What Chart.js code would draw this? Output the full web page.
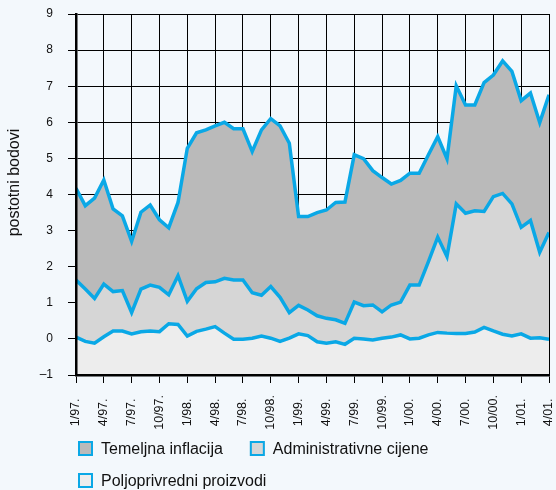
<!DOCTYPE html>
<html>
<head>
<meta charset="utf-8">
<script src="https://cdn.jsdelivr.net/npm/chart.js@4/dist/chart.umd.min.js"></script>
<style>
  html, body { margin: 0; padding: 0; background: #f3f8fc; }
  #wrap { width: 556px; height: 490px; }
</style>
</head>
<body>
<div id="wrap"><canvas id="c" width="556" height="490"></canvas></div>
<script>
// Tick labels on the month axis (every third month, Jan 1997 .. Apr 2001)
const tickLabels = ['1/97.','4/97.','7/97.','10/97.','1/98.','4/98.','7/98.','10/98.',
  '1/99.','4/99.','7/99.','10/99.','1/00.','4/00.','7/00.','10/00.','1/01.','4/01.'];

const seriesNames = ['Temeljna inflacija', 'Administrativne cijene', 'Poljoprivredni proizvodi'];

// Monthly contributions, percentage points (Jan 1997 .. Apr 2001, 52 months)
const temeljna = [2.54,2.31,2.78,2.88,2.29,2.07,1.97,2.13,2.22,1.87,1.86,2.03,
  4.24,4.32,4.23,4.32,4.32,4.19,4.19,3.91,4.58,4.65,4.75,4.69,
  2.46,2.59,2.86,3.00,3.25,3.36,4.08,4.07,3.72,3.72,3.35,3.37,
  3.10,3.10,2.96,2.78,2.71,3.27,3.00,2.93,3.57,3.37,3.67,3.67,
  3.51,3.53,3.59,3.81];

const administrativne = [1.58,1.45,1.24,1.46,1.09,1.12,0.59,1.18,1.27,1.23,0.80,1.35,
  0.96,1.18,1.29,1.24,1.52,1.64,1.64,1.26,1.13,1.43,1.22,0.71,
  0.79,0.71,0.72,0.69,0.61,0.58,1.00,0.92,0.97,0.73,0.89,0.91,
  1.49,1.47,2.03,2.64,2.12,3.59,3.33,3.36,3.21,3.72,3.90,3.66,
  2.95,3.26,2.37,2.96];

const poljoprivredni = [0.05,-0.07,-0.12,0.06,0.22,0.22,0.14,0.20,0.22,0.20,0.42,0.40,
  0.08,0.21,0.27,0.34,0.16,-0.01,-0.01,0.02,0.08,0.02,-0.07,0.02,
  0.14,0.09,-0.08,-0.12,-0.08,-0.15,0.02,0.00,-0.03,0.02,0.05,0.11,
  0.00,0.02,0.11,0.18,0.16,0.15,0.15,0.19,0.32,0.22,0.13,0.08,
  0.14,0.02,0.03,-0.01];

const yTitle = 'postotni bodovi';

// Stacked levels built from the series
const lvl1 = poljoprivredni.map(v => v);
const lvl2 = lvl1.map((v, i) => v + administrativne[i]);
const lvl3 = lvl2.map((v, i) => v + temeljna[i]);
const toPts = arr => arr.map((v, i) => ({ x: i, y: v }));

const LINE = '#0aa8e6';
const FONT = '"Liberation Sans", Arial, Helvetica, sans-serif';

const legendPlugin = {
  id: 'customLegend',
  afterDraw(chart) {
    const ctx = chart.ctx;
    const area = chart.chartArea;
    const order = [2, 1, 0];
    ctx.save();
    ctx.font = '16px ' + FONT;
    ctx.textBaseline = 'middle';
    ctx.textAlign = 'left';
    const box = 15, gap = 8, itemGap = 27, rowH = 32;
    const x0 = area.left + 2;
    let x = x0, y = area.bottom + 66;
    order.forEach(idx => {
      const ds = chart.data.datasets[idx];
      const w = box + gap + ctx.measureText(ds.label).width;
      if (x + w > chart.width && x > x0) { x = x0; y += rowH; }
      ctx.fillStyle = ds.backgroundColor;
      ctx.fillRect(x, y, box, box);
      ctx.strokeStyle = ds.borderColor;
      ctx.lineWidth = 2;
      ctx.strokeRect(x + 1, y + 1, box - 2, box - 2);
      ctx.fillStyle = '#111';
      ctx.fillText(ds.label, x + box + gap, y + box / 2 + 1);
      x += w + itemGap;
    });
    // y axis title
    ctx.font = '16px ' + FONT;
    ctx.textAlign = 'center';
    ctx.translate(14.5, (area.top + area.bottom) / 2 - 12);
    ctx.rotate(-Math.PI / 2);
    ctx.fillText(yTitle, 0, 0);
    ctx.restore();
  }
};

new Chart(document.getElementById('c'), {
  type: 'line',
  data: {
    datasets: [
      { label: seriesNames[2], data: toPts(lvl1), fill: 'start', backgroundColor: '#ededed',
        borderColor: LINE, borderWidth: 3.5, pointRadius: 0, tension: 0 },
      { label: seriesNames[1], data: toPts(lvl2), fill: '-1', backgroundColor: '#d6d6d6',
        borderColor: LINE, borderWidth: 3.5, pointRadius: 0, tension: 0 },
      { label: seriesNames[0], data: toPts(lvl3), fill: '-1', backgroundColor: '#bababa',
        borderColor: LINE, borderWidth: 3.5, pointRadius: 0, tension: 0 }
    ]
  },
  options: {
    responsive: false,
    animation: false,
    devicePixelRatio: 1,
    layout: { padding: { top: 14, right: 7, bottom: 53, left: 0 } },
    plugins: { legend: { display: false }, tooltip: { enabled: false } },
    scales: {
      x: {
        type: 'linear', min: 0, max: 51,
        afterFit: s => { s.height = 62; s.paddingLeft = 0; s.paddingRight = 0; },
        ticks: {
          stepSize: 3, autoSkip: false, maxRotation: 90, minRotation: 90, padding: 12,
          color: '#111', font: { family: FONT, size: 12.5 },
          callback: v => { const t = tickLabels[Math.round(v / 3)]; return t.length < 6 ? t + ' ' : t; }
        },
        grid: { color: '#000', lineWidth: 1, tickLength: 8, tickColor: '#000' },
        border: { color: '#000', width: 2.5, z: 1 }
      },
      y: {
        min: -1, max: 9,
        afterFit: s => { s.width = 76; s.paddingTop = 0; s.paddingBottom = 0; },
        ticks: {
          stepSize: 1, padding: 15, color: '#111', font: { family: FONT, size: 12 },
          callback: v => v < 0 ? '\u2013' + Math.abs(v) : String(v)
        },
        grid: { color: '#000', lineWidth: 1, tickLength: 8, tickColor: '#000' },
        border: { color: '#000', width: 2.5, z: 1 }
      }
    }
  },
  plugins: [legendPlugin]
});
</script>
</body>
</html>
